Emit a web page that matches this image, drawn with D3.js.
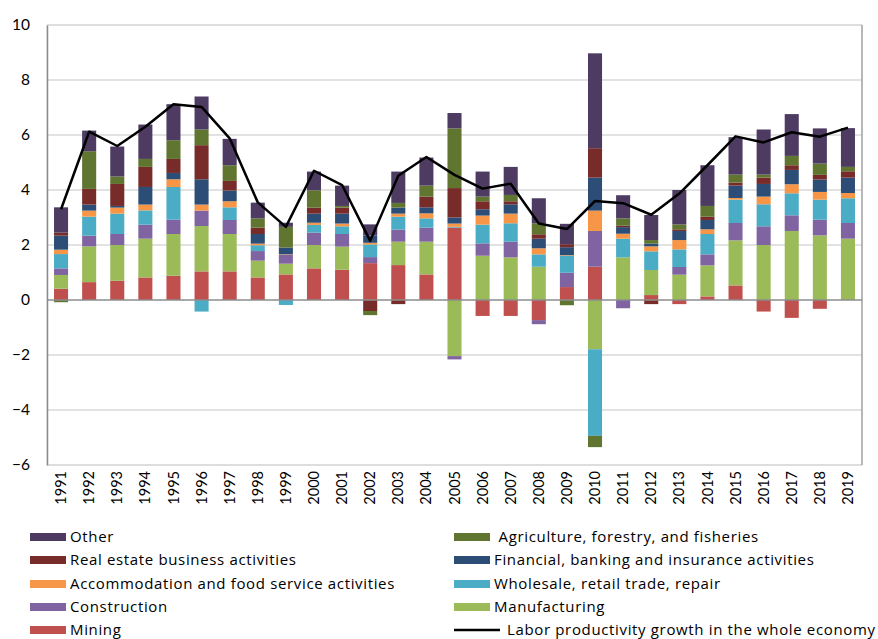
<!DOCTYPE html>
<html>
<head>
<meta charset="utf-8">
<script src="https://cdn.jsdelivr.net/npm/d3@7"></script>
<style>
  html, body { margin: 0; padding: 0; background: #fff; }
  svg { display: block; font-family: Lato, "Liberation Sans", sans-serif; }
</style>
</head>
<body>
<svg id="chart" width="878" height="639"></svg>
<script>
const years = [1991,1992,1993,1994,1995,1996,1997,1998,1999,2000,2001,2002,2003,2004,2005,2006,2007,2008,2009,2010,2011,2012,2013,2014,2015,2016,2017,2018,2019];

const mining        = [0.41,0.65,0.70,0.82,0.88,1.04,1.04,0.82,0.93,1.15,1.10,1.34,1.27,0.93,2.63,-0.58,-0.58,-0.73,0.47,1.21,0,0.18,-0.15,0.13,0.53,-0.42,-0.65,-0.32,0];
const manufacturing = [0.50,1.30,1.30,1.41,1.52,1.65,1.36,0.61,0.39,0.85,0.84,0,0.85,1.19,-2.04,1.61,1.55,1.21,0,-1.79,1.55,0.91,0.92,1.13,1.64,2.00,2.51,2.35,2.23];
const construction  = [0.24,0.39,0.40,0.51,0.52,0.56,0.51,0.35,0.32,0.45,0.46,0.22,0.44,0.51,-0.12,0.45,0.57,-0.15,0.52,1.30,-0.30,0,0.28,0.40,0.63,0.68,0.57,0.57,0.57];
const wholesale     = [0.52,0.69,0.74,0.52,1.19,-0.42,0.46,0.21,-0.18,0.28,0.28,0.46,0.47,0.34,0.03,0.68,0.67,0.45,0.62,-3.15,0.68,0.68,0.64,0.74,0.85,0.80,0.80,0.73,0.90];
const accommodation = [0.16,0.22,0.22,0.21,0.28,0.22,0.22,0.06,0.02,0.08,0.10,0.06,0.11,0.18,0.12,0.33,0.35,0.22,0.02,0.74,0.18,0.18,0.34,0.17,0.06,0.28,0.33,0.28,0.19];
const financial     = [0.51,0.22,0.06,0.64,0.23,0.92,0.39,0.35,0.25,0.33,0.36,0.27,0.22,0.22,0.22,0.23,0.34,0.35,0.29,1.20,0.24,0.10,0.33,0.34,0.45,0.46,0.52,0.45,0.56];
const realEstate    = [0.11,0.57,0.80,0.73,0.51,1.24,0.35,0.23,0,0.22,0.22,-0.40,-0.15,0.39,1.07,0.29,0.11,0.16,0.11,1.07,0.05,-0.15,0.06,0.12,0.11,0.23,0.17,0.17,0.23];
const agriculture   = [-0.08,1.37,0.27,0.29,0.68,0.57,0.57,0.34,0.75,0.63,0.06,-0.15,0.17,0.40,2.17,0.17,0.23,0.40,-0.19,-0.41,0.27,0.13,0.18,0.39,0.29,0.11,0.34,0.41,0.16];
const other         = [0.92,0.75,1.09,1.25,1.31,1.20,0.96,0.57,0.15,0.68,0.74,0.40,1.14,1.02,0.56,0.91,1.02,0.91,0.74,3.45,0.84,0.91,1.25,1.48,1.36,1.64,1.52,1.28,1.41];

const laborProductivity = [3.3,6.12,5.6,6.3,7.12,7.02,5.88,3.55,2.66,4.7,4.18,2.15,4.52,5.2,4.55,4.05,4.23,2.78,2.58,3.6,3.52,3.1,3.87,4.9,5.95,5.73,6.1,5.94,6.27];

const yTicks = [-6,-4,-2,0,2,4,6,8,10];

const seriesNames = ["Mining","Manufacturing","Construction","Wholesale, retail trade, repair","Accommodation and food service activities","Financial, banking and insurance activities","Real estate business activities","Agriculture, forestry, and fisheries","Other"];
const seriesData = [mining, manufacturing, construction, wholesale, accommodation, financial, realEstate, agriculture, other];
const seriesColors = ["#C0504D","#9BBB59","#8064A2","#4BACC6","#F79646","#2C4D75","#772C2A","#5F7530","#4D3B62"];
const lineName = "Labor productivity growth in the whole economy";

const table = years.map((yr, i) => {
  const row = { year: yr };
  seriesNames.forEach((n, k) => row[n] = seriesData[k][i]);
  return row;
});

const svg = d3.select("#chart");
const pLeft = 47, pRight = 862, pTop = 25, pBottom = 465;

const x = d3.scaleBand().domain(years).range([pLeft, pRight]).paddingInner(0.5).paddingOuter(0.25);
const y = d3.scaleLinear().domain([-6, 10]).range([pBottom, pTop]);

// Gridlines
svg.append("g").selectAll("line").data(yTicks.filter(t => t !== 0)).join("line")
  .attr("x1", pLeft).attr("x2", pRight)
  .attr("y1", d => y(d)).attr("y2", d => y(d))
  .attr("stroke", "#d9d9d9").attr("stroke-width", 1.3);

// Plot border
svg.append("rect").attr("x", pLeft).attr("y", pTop).attr("width", pRight - pLeft).attr("height", pBottom - pTop)
  .attr("fill", "none").attr("stroke", "#d9d9d9").attr("stroke-width", 1);
svg.append("line").attr("x1", pRight).attr("x2", pRight).attr("y1", pTop).attr("y2", pBottom)
  .attr("stroke", "#a6a6a6").attr("stroke-width", 1.5);

// Stacked bars
const stack = d3.stack().keys(seriesNames).order(d3.stackOrderNone).offset(d3.stackOffsetDiverging);
const stacked = stack(table);

svg.append("g").selectAll("g").data(stacked).join("g")
  .attr("fill", (d, i) => seriesColors[i])
  .selectAll("rect").data(d => d).join("rect")
  .attr("x", d => x(d.data.year))
  .attr("width", x.bandwidth())
  .attr("y", d => y(Math.max(d[0], d[1])))
  .attr("height", d => Math.abs(y(d[0]) - y(d[1])));

// Zero axis
svg.append("line").attr("x1", pLeft).attr("x2", pRight).attr("y1", y(0)).attr("y2", y(0))
  .attr("stroke", "#8c8c8c").attr("stroke-width", 1.5);

// Y axis
const yAxis = d3.axisLeft(y).tickValues(yTicks).tickSize(0).tickPadding(0);
const yg = svg.append("g").attr("transform", `translate(${pLeft},0)`).call(yAxis);
yg.select(".domain").attr("stroke", "#8c8c8c").attr("stroke-width", 1.5);
yg.selectAll("text").attr("x", -17).attr("font-size", 15.5).attr("fill", "#000")
  .attr("font-family", "Lato, 'Liberation Sans', sans-serif");

// X axis labels
const xAxis = d3.axisBottom(x).tickSize(0).tickPadding(0);
const xg = svg.append("g").attr("transform", `translate(0,${pBottom})`).call(xAxis);
xg.select(".domain").remove();
xg.selectAll("text")
  .attr("font-size", 14.5).attr("fill", "#000")
  .attr("font-family", "Lato, 'Liberation Sans', sans-serif")
  .attr("text-anchor", "end")
  .attr("dy", "0.35em")
  .attr("transform", "translate(0,6) rotate(-90)")
  .attr("y", 0).attr("x", 0);

// Line
const line = d3.line().x((d, i) => x(years[i]) + x.bandwidth() / 2).y(d => y(d));
svg.append("path").datum(laborProductivity).attr("d", line)
  .attr("fill", "none").attr("stroke", "#000").attr("stroke-width", 2.5).attr("stroke-linejoin", "round");

// Legend
const legendItems = [
  { name: "Other", color: seriesColors[8], col: 0, row: 0 },
  { name: "\u00A0Agriculture, forestry, and fisheries", color: seriesColors[7], col: 1, row: 0 },
  { name: "Real estate business activities", color: seriesColors[6], col: 0, row: 1 },
  { name: "Financial, banking and insurance activities", color: seriesColors[5], col: 1, row: 1 },
  { name: "Accommodation and food service activities", color: seriesColors[4], col: 0, row: 2 },
  { name: "Wholesale, retail trade, repair", color: seriesColors[3], col: 1, row: 2 },
  { name: "Construction", color: seriesColors[2], col: 0, row: 3 },
  { name: "Manufacturing", color: seriesColors[1], col: 1, row: 3 },
  { name: "Mining", color: seriesColors[0], col: 0, row: 4 },
  { name: lineName, color: "#000", col: 1, row: 4, isLine: true }
];
const lg = svg.append("g").attr("font-family", "'Open Sans', Lato, sans-serif").attr("font-size", 15)
  .attr("letter-spacing", "0.65px");
const colX = [30, 454];
const rowY = [537, 560, 584, 607, 630];
legendItems.forEach(it => {
  const gx = colX[it.col], gy = rowY[it.row];
  if (it.isLine) {
    lg.append("line").attr("x1", gx).attr("x2", gx + 46).attr("y1", gy).attr("y2", gy)
      .attr("stroke", "#000").attr("stroke-width", 2.5);
    lg.append("text").attr("x", gx + 53).attr("y", gy).attr("dy", "0.35em")
      .attr("fill", "#000").text(it.name);
  } else {
    lg.append("rect").attr("x", gx).attr("y", gy - 4).attr("width", 36).attr("height", 8).attr("fill", it.color);
    lg.append("text").attr("x", gx + 40).attr("y", gy).attr("dy", "0.35em")
      .attr("fill", "#000").text(it.name);
  }
});
</script>
</body>
</html>
